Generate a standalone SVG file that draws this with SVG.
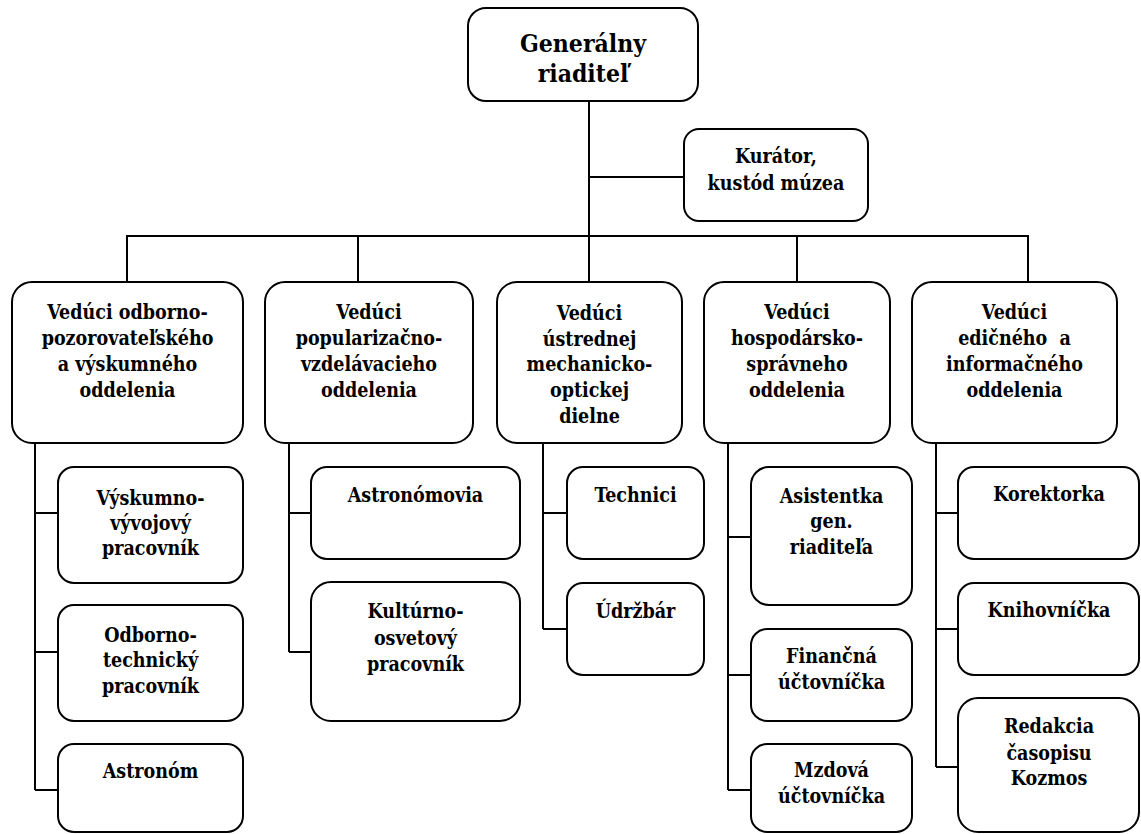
<svg xmlns="http://www.w3.org/2000/svg" width="1141" height="834" viewBox="0 0 1141 834">
<style>
.bx{fill:#fff;stroke:#000;stroke-width:2}
.ln{fill:none;stroke:#000;stroke-width:2}
text{font-family:"DejaVu Serif Condensed","DejaVu Serif",serif;font-stretch:condensed;font-weight:bold;font-size:19.5px;text-anchor:middle;fill:#000}
.big{font-size:24.5px}
</style>
<rect width="1141" height="834" fill="#fff"/>
<g id="connectors" class="ln">
<path d="M589 101V282M589 177H684"/>
<path d="M127 282V236H1028V282M358 236V282M797 236V282"/>
<path d="M35 443V790M35 513H58M35 652H58M35 790H58"/>
<path d="M289 443V652M289 513H311M289 652H311"/>
<path d="M543 443V629M543 513H567M543 629H567"/>
<path d="M728 439V790M728 537H751M728 675H751M728 790H751"/>
<path d="M936 443V767M936 513H958M936 629H958M936 767H958"/>
</g>
<g id="n-gr"><rect class="bx" x="468" y="8" width="230" height="93" rx="18"/><text class="big" x="583" y="52">Generálny</text><text class="big" x="583" y="82">riaditeľ</text></g>
<g id="n-kur"><rect class="bx" x="684" y="129" width="184" height="92" rx="15"/><text x="776" y="163">Kurátor,</text><text x="776" y="190">kustód múzea</text></g>
<g id="n-v1"><rect class="bx" x="12" y="282" width="231" height="161" rx="20"/><text x="127.5" y="319">Vedúci odborno-</text><text x="127.5" y="345">pozorovateľského</text><text x="127.5" y="371">a výskumného</text><text x="127.5" y="397">oddelenia</text></g>
<g id="n-v2"><rect class="bx" x="265" y="282" width="208" height="161" rx="20"/><text x="369" y="319">Vedúci</text><text x="369" y="345">popularizačno-</text><text x="369" y="371">vzdelávacieho</text><text x="369" y="397">oddelenia</text></g>
<g id="n-v3"><rect class="bx" x="497" y="282" width="185" height="161" rx="20"/><text x="589.5" y="320">Vedúci</text><text x="589.5" y="346">ústrednej</text><text x="589.5" y="371">mechanicko-</text><text x="589.5" y="397">optickej</text><text x="589.5" y="423">dielne</text></g>
<g id="n-v4"><rect class="bx" x="704" y="282" width="186" height="161" rx="20"/><text x="797" y="319">Vedúci</text><text x="797" y="345">hospodársko-</text><text x="797" y="371">správneho</text><text x="797" y="397">oddelenia</text></g>
<g id="n-v5"><rect class="bx" x="912" y="282" width="205" height="161" rx="20"/><text x="1014.5" y="319">Vedúci</text><text x="1014.5" y="345" xml:space="preserve">edičného  a</text><text x="1014.5" y="371">informačného</text><text x="1014.5" y="397">oddelenia</text></g>
<g id="n-c1a"><rect class="bx" x="58" y="467" width="185" height="116" rx="16"/><text x="150.5" y="505">Výskumno-</text><text x="150.5" y="530">vývojový</text><text x="150.5" y="555">pracovník</text></g>
<g id="n-c1b"><rect class="bx" x="58" y="605" width="185" height="116" rx="16"/><text x="150.5" y="642">Odborno-</text><text x="150.5" y="667">technický</text><text x="150.5" y="693">pracovník</text></g>
<g id="n-c1c"><rect class="bx" x="58" y="744" width="185" height="88" rx="16"/><text x="150.5" y="778">Astronóm</text></g>
<g id="n-c2a"><rect class="bx" x="311" y="467" width="209" height="92" rx="16"/><text x="415.5" y="502">Astronómovia</text></g>
<g id="n-c2b"><rect class="bx" x="311" y="582" width="209" height="139" rx="20"/><text x="415.5" y="618">Kultúrno-</text><text x="415.5" y="645">osvetový</text><text x="415.5" y="671">pracovník</text></g>
<g id="n-c3a"><rect class="bx" x="567" y="467" width="137" height="92" rx="16"/><text x="635.5" y="502">Technici</text></g>
<g id="n-c3b"><rect class="bx" x="567" y="583" width="137" height="92" rx="16"/><text x="635.5" y="618">Údržbár</text></g>
<g id="n-c4a"><rect class="bx" x="751" y="467" width="161" height="138" rx="18"/><text x="831.5" y="503">Asistentka</text><text x="831.5" y="528">gen.</text><text x="831.5" y="554">riaditeľa</text></g>
<g id="n-c4b"><rect class="bx" x="751" y="629" width="161" height="92" rx="16"/><text x="831.5" y="663">Finančná</text><text x="831.5" y="689">účtovníčka</text></g>
<g id="n-c4c"><rect class="bx" x="751" y="744" width="161" height="88" rx="16"/><text x="831.5" y="777">Mzdová</text><text x="831.5" y="803">účtovníčka</text></g>
<g id="n-c5a"><rect class="bx" x="958" y="467" width="181" height="92" rx="16"/><text x="1049" y="501">Korektorka</text></g>
<g id="n-c5b"><rect class="bx" x="958" y="583" width="181" height="92" rx="16"/><text x="1049" y="617">Knihovníčka</text></g>
<g id="n-c5c"><rect class="bx" x="958" y="698" width="181" height="134" rx="20"/><text x="1049" y="733">Redakcia</text><text x="1049" y="760">časopisu</text><text x="1049" y="785">Kozmos</text></g>
</svg>
